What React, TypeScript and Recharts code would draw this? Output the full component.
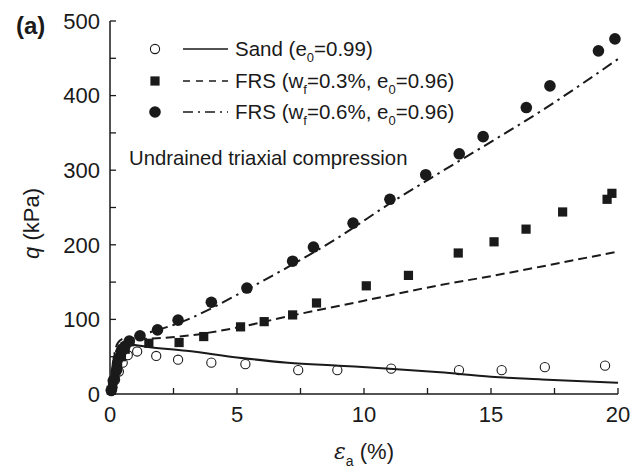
import React from 'react';
import { ComposedChart, Line, Scatter, XAxis, YAxis } from 'recharts';

const FONT = '"Liberation Sans", Arial, Helvetica, sans-serif';
const INK = '#1a1a1a';

// axis ticks (minor ticks are unlabeled)
const xTicks = [0, 2.5, 5, 7.5, 10, 12.5, 15, 17.5, 20];
const yTicks = [0, 50, 100, 150, 200, 250, 300, 350, 400, 450, 500];
const xLabeled = [0, 5, 10, 15, 20];
const yLabeled = [0, 100, 200, 300, 400, 500];

// test data: [strain %, q kPa]
const sandTest = [
    [0.05, 4], [0.1, 9], [0.2, 19], [0.35, 30], [0.5, 42], [0.7, 52], [1.07, 57],
    [1.82, 51], [2.68, 46], [3.99, 42], [5.33, 40], [7.41, 32], [8.95, 32],
    [11.07, 34], [13.74, 32], [15.42, 32], [17.12, 36], [19.49, 38],
];
const frs03Test = [
    [0.05, 5], [0.1, 12], [0.2, 25], [0.3, 38], [0.45, 50], [0.6, 60], [0.78, 70],
    [1.53, 68], [2.72, 69], [3.69, 77], [5.14, 90], [6.07, 97], [7.19, 106],
    [8.13, 122], [10.09, 145], [11.75, 159], [13.71, 189], [15.12, 204],
    [16.38, 221], [17.82, 244], [19.57, 261], [19.76, 269],
];
const frs06Test = [
    [0.05, 5], [0.13, 18], [0.26, 32], [0.33, 48], [0.45, 57], [0.59, 64], [0.76, 71],
    [1.18, 78], [1.87, 86], [2.68, 99], [3.99, 123], [5.39, 142], [7.19, 178],
    [8.01, 197], [9.57, 229], [11.02, 261], [12.43, 294], [13.75, 322], [14.69, 345],
    [16.39, 384], [17.32, 413], [19.23, 460], [19.88, 476],
];

// model curves
const sandModel = [
    [0, 0], [0.1, 28], [0.2, 45], [0.3, 55], [0.5, 63], [0.8, 66], [1.5, 63], [3, 58],
    [5, 49], [7, 42], [9, 38], [11, 34], [13, 29], [15, 23], [17, 19.5], [20, 15],
];
const frs03Model = [
    [0, 0], [0.1, 32], [0.2, 52], [0.3, 62], [0.5, 69], [1, 73], [2, 75], [3, 78],
    [5, 89], [7, 104], [10, 125], [13, 146], [15, 158], [17, 171], [20, 191],
];
const frs06Model = [
    [0, 0], [0.1, 38], [0.2, 58], [0.3, 68], [0.5, 74], [1, 78], [2, 87], [3, 99],
    [4, 115], [5, 133], [7, 170], [9, 210], [11, 255], [13, 297], [15, 338],
    [17, 380], [20, 449],
];

const rows = (pts: number[][]) => pts.map(([x, q]) => ({ x, q }));

// eslint-disable-next-line @typescript-eslint/no-explicit-any
const OpenCircle = (p: any) => (
    <circle cx={p.cx} cy={p.cy} r={4.6} fill="none" stroke={INK} strokeWidth={1.1} />
);
// eslint-disable-next-line @typescript-eslint/no-explicit-any
const FilledSquare = (p: any) => (
    <rect x={p.cx - 4.6} y={p.cy - 4.6} width={9.2} height={9.2} fill={INK} />
);
// eslint-disable-next-line @typescript-eslint/no-explicit-any
const FilledCircle = (p: any) => <circle cx={p.cx} cy={p.cy} r={5.8} fill={INK} />;

const Sub = ({ children }: { children: React.ReactNode }) => (
    <span style={{ fontSize: 13, position: 'relative', top: 6 }}>{children}</span>
);

const legendRows = [
    { marker: 'open', dash: '', label: <>Sand (e<Sub>0</Sub>=0.99)</> },
    { marker: 'square', dash: '7 6', label: <>FRS (w<Sub>f</Sub>=0.3%, e<Sub>0</Sub>=0.96)</> },
    { marker: 'dot', dash: '10 5 2 5', label: <>FRS (w<Sub>f</Sub>=0.6%, e<Sub>0</Sub>=0.96)</> },
];

export default function App() {
    return (
        <div style={{ position: 'absolute', left: 0, top: 0, width: 642, height: 473, background: '#fff', fontFamily: FONT, color: INK }}>
            <ComposedChart width={642} height={473} margin={{ top: 21, right: 24, bottom: 0, left: 0 }}>
                <XAxis
                    type="number"
                    dataKey="x"
                    domain={[0, 20]}
                    ticks={xTicks}
                    height={79}
                    tickSize={-6}
                    tickMargin={18}
                    tickFormatter={(v: number) => (xLabeled.includes(v) ? String(v) : '')}
                    tick={{ fill: INK, fontSize: 22, fontFamily: FONT }}
                    axisLine={{ stroke: INK, strokeWidth: 1.5 }}
                    tickLine={{ stroke: INK, strokeWidth: 1.3 }}
                    label={{
                        // eslint-disable-next-line @typescript-eslint/no-explicit-any
                        content: ({ viewBox }: any) => (
                            <text
                                x={viewBox.x + viewBox.width / 2}
                                y={viewBox.y + 65}
                                textAnchor="middle"
                                fontFamily={FONT}
                                fontSize={22}
                                fill={INK}
                            >
                                <tspan fontStyle="italic" fontFamily="'DejaVu Serif', serif">ε</tspan>
                                <tspan fontSize={14} dy={7}>a</tspan>
                                <tspan dy={-7}> (%)</tspan>
                            </text>
                        ),
                    }}
                />
                <YAxis
                    type="number"
                    dataKey="q"
                    domain={[0, 500]}
                    ticks={yTicks}
                    width={110}
                    tickSize={-6}
                    tickMargin={16}
                    tickFormatter={(v: number) => (yLabeled.includes(v) ? String(v) : '')}
                    tick={{ fill: INK, fontSize: 22, fontFamily: FONT }}
                    axisLine={{ stroke: INK, strokeWidth: 1.5 }}
                    tickLine={{ stroke: INK, strokeWidth: 1.3 }}
                    label={{
                        // eslint-disable-next-line @typescript-eslint/no-explicit-any
                        content: ({ viewBox }: any) => {
                            const cx = viewBox.x + 31;
                            const cy = viewBox.y + viewBox.height / 2 + 16;
                            return (
                                <text
                                    x={cx}
                                    y={cy}
                                    transform={`rotate(-90 ${cx} ${cy})`}
                                    textAnchor="middle"
                                    dominantBaseline="central"
                                    fontFamily={FONT}
                                    fontSize={22}
                                    fill={INK}
                                >
                                    <tspan fontStyle="italic">q</tspan>
                                    <tspan> (kPa)</tspan>
                                </text>
                            );
                        },
                    }}
                />
                <Line data={rows(sandModel)} dataKey="q" type="monotone" stroke={INK} strokeWidth={2} dot={false} activeDot={false} isAnimationActive={false} />
                <Line data={rows(frs03Model)} dataKey="q" type="monotone" stroke={INK} strokeWidth={2} strokeDasharray="9 5" dot={false} activeDot={false} isAnimationActive={false} />
                <Line data={rows(frs06Model)} dataKey="q" type="monotone" stroke={INK} strokeWidth={2} strokeDasharray="11 5 2.5 5" dot={false} activeDot={false} isAnimationActive={false} />
                <Scatter data={rows(sandTest)} shape={OpenCircle} isAnimationActive={false} />
                <Scatter data={rows(frs03Test)} shape={FilledSquare} isAnimationActive={false} />
                <Scatter data={rows(frs06Test)} shape={FilledCircle} isAnimationActive={false} />
            </ComposedChart>

            <div style={{ position: 'absolute', left: 16, top: 12, fontSize: 24, fontWeight: 'bold' }}>(a)</div>

            {legendRows.map((r, i) => (
                <div key={i} style={{ position: 'absolute', left: 143, top: 37 + i * 31.5, height: 24, width: 400 }}>
                    <svg width={92} height={24} style={{ position: 'absolute', left: 0, top: 0 }}>
                        {r.marker === 'open' && <circle cx={12} cy={12} r={4.6} fill="none" stroke={INK} strokeWidth={1.1} />}
                        {r.marker === 'square' && <rect x={7.4} y={7.4} width={9.2} height={9.2} fill={INK} />}
                        {r.marker === 'dot' && <circle cx={12} cy={12} r={5.8} fill={INK} />}
                        <line x1={40} x2={85} y1={12} y2={12} stroke={INK} strokeWidth={1.6} strokeDasharray={r.dash || undefined} />
                    </svg>
                    <div style={{ position: 'absolute', left: 92, top: 0, fontSize: 20.5, lineHeight: '24px', whiteSpace: 'nowrap' }}>
                        {r.label}
                    </div>
                </div>
            ))}

            <div style={{ position: 'absolute', left: 129, top: 146, fontSize: 20.3, lineHeight: '24px', whiteSpace: 'nowrap' }}>
                Undrained triaxial compression
            </div>
        </div>
    );
}
